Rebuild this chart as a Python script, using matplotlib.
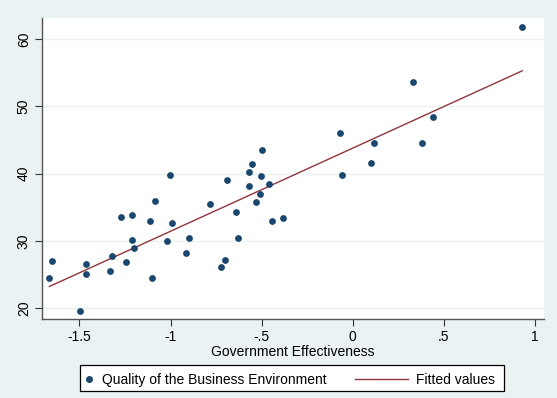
import numpy as np
import matplotlib
matplotlib.use("Agg")
import matplotlib.pyplot as plt
from matplotlib.lines import Line2D
from matplotlib.patches import Rectangle

plt.rcParams['font.family'] = ['Liberation Sans', 'DejaVu Sans']

gov_eff = [-1.665, -1.653, -1.496, -1.463, -1.463, -1.332, -1.323, -1.274, -1.243, -1.212,
           -1.212, -1.202, -1.113, -1.103, -1.083, -1.021, -0.992, -0.913, -0.900, -0.781,
           -0.723, -0.701, -0.642, -0.631, -0.530, -0.508, -0.441, -0.380, -1.003, -0.691,
           -0.570, -0.551, -0.499, -0.501, -0.570, -0.459, 0.933, 0.331, 0.442, -0.069,
           0.120, 0.380, 0.102, -0.059]
quality = [24.5, 27.0, 19.6, 26.5, 25.1, 25.5, 27.7, 33.5, 26.8, 33.9,
           30.1, 28.9, 33.0, 24.4, 35.9, 30.0, 32.6, 28.2, 30.4, 35.5,
           26.1, 27.2, 34.3, 30.4, 35.7, 37.0, 32.9, 33.4, 39.8, 39.0,
           40.2, 41.4, 43.5, 39.7, 38.2, 38.5, 61.8, 53.6, 48.4, 46.0,
           44.5, 44.5, 41.6, 39.8]
fit_x = [min(gov_eff), max(gov_eff)]
fit_y = [23.2, 55.3]

x_ticks = [-1.5, -1, -0.5, 0, 0.5, 1]
x_labels = ['-1.5', '-1', '-.5', '0', '.5', '1']
y_ticks = [20, 30, 40, 50, 60]
legend_labels = ['Quality of the Business Environment', 'Fitted values']

bg = '#eaf2f3'
navy = '#1a476f'
maroon = '#90353b'
W, H = 557, 398
FS = 10

fig = plt.figure(figsize=(W/100, H/100), dpi=100, facecolor=bg)
ax = fig.add_axes([42/W, 1-319/H, (544-42)/W, (319-18)/H])
ax.set_facecolor('white')

ax.scatter(gov_eff, quality, s=24, color=navy, zorder=3, linewidths=0)
ax.plot(fit_x, fit_y, color=maroon, lw=1.0, zorder=2)

ax.set_xlim(-1.706, 1.052)
ax.set_ylim(18.36, 63.15)
ax.set_xticks(x_ticks)
ax.set_xticklabels(x_labels)
ax.set_yticks(y_ticks)
ax.set_yticklabels([str(v) for v in y_ticks], rotation=90, va='center')
ax.grid(axis='y', color=bg, lw=1.0)
ax.set_axisbelow(True)
for s in ['top', 'right']:
    ax.spines[s].set_visible(False)
for s in ['left', 'bottom']:
    ax.spines[s].set_color('#555555')
    ax.spines[s].set_linewidth(1.0)
ax.tick_params(axis='both', labelsize=FS, length=5, color='#333333', width=0.8, pad=3)
ax.set_xlabel('Government Effectiveness', fontsize=FS, labelpad=1)

# legend drawn manually (figure pixel coordinates -> fractions)
def fx(px):
    return px / W

def fy(py):
    return 1 - py / H

fig.patches.append(Rectangle((fx(80), fy(391)), fx(504) - fx(80), fy(365) - fy(391),
                             transform=fig.transFigure, facecolor='white',
                             edgecolor='black', lw=0.9))
fig.add_artist(Line2D([fx(89)], [fy(379)], marker='o', ls='none', color=navy,
                      markersize=4, transform=fig.transFigure))
fig.text(fx(101.5), fy(384), legend_labels[0], fontsize=FS, va='baseline', ha='left')
fig.add_artist(Line2D([fx(355), fx(408)], [fy(379), fy(379)], color=maroon,
                      lw=1.0, transform=fig.transFigure))
fig.text(fx(416), fy(384), legend_labels[1], fontsize=FS, va='baseline', ha='left')

fig.savefig('out.png', dpi=100, facecolor=bg)
